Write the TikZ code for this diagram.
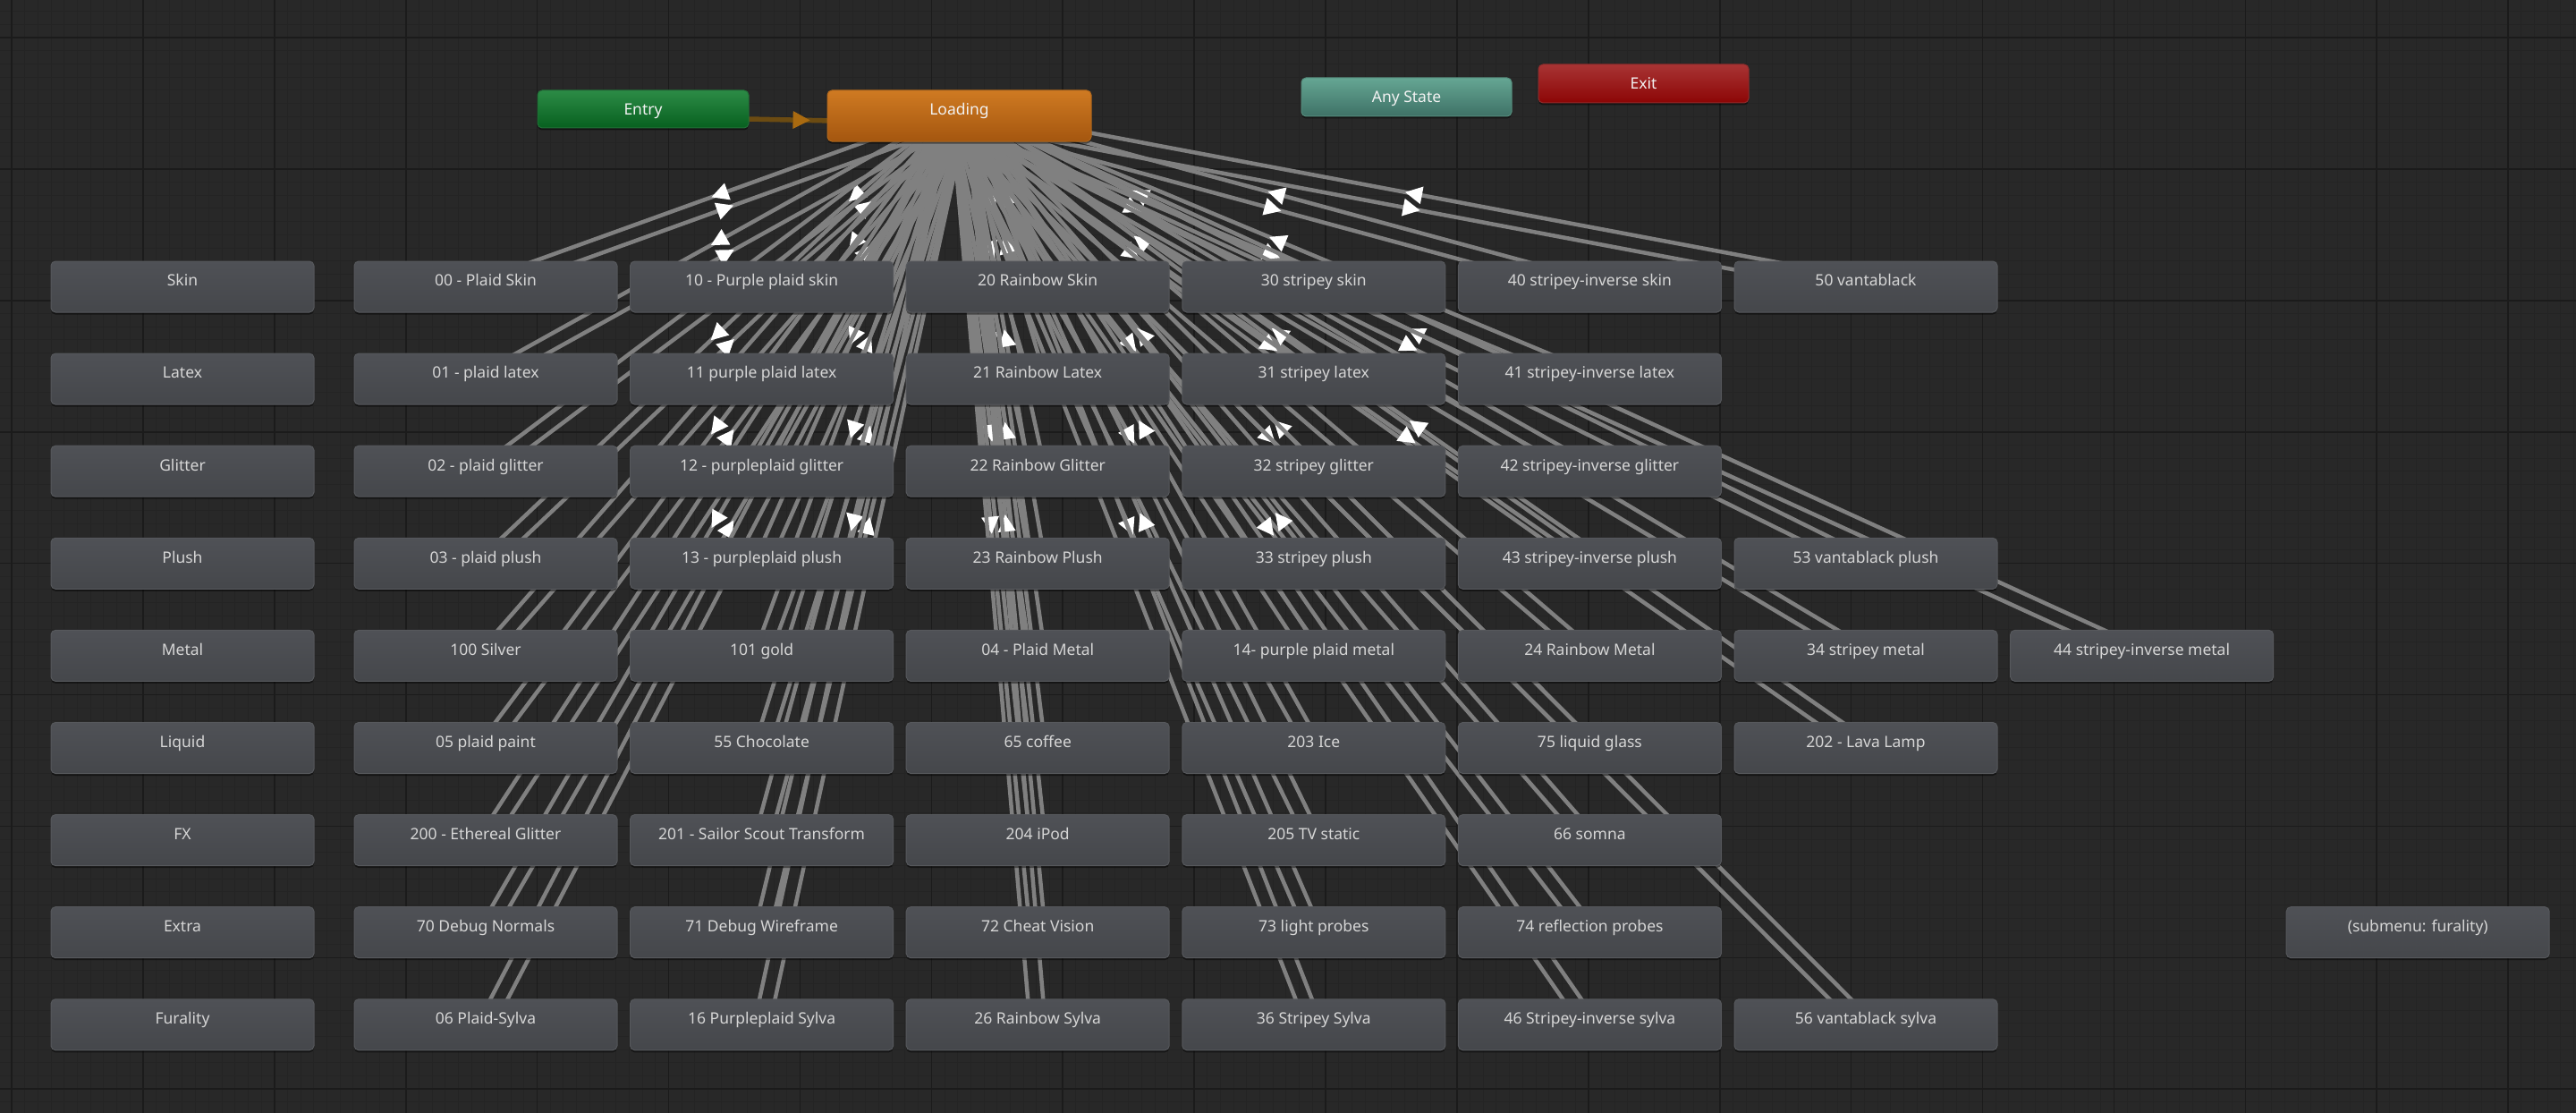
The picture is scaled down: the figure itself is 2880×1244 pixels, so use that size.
\documentclass[tikz,border=0pt]{standalone}
\usepackage{fontspec}
\setmainfont{Noto Sans}
\usetikzlibrary{calc,decorations.markings,shadows}
\definecolor{bgc}{HTML}{282828}
\definecolor{minorc}{HTML}{242424}
\definecolor{majorc}{HTML}{1B1B1B}
\definecolor{nodetop}{HTML}{4F5156}
\definecolor{nodebot}{HTML}{45474B}
\definecolor{nodeedge}{HTML}{56585C}
\definecolor{nodetext}{HTML}{D6D6D6}
\definecolor{linegray}{HTML}{808080}
\definecolor{entrytop}{HTML}{2C8B46}
\definecolor{entrybot}{HTML}{07601F}
\definecolor{loadtop}{HTML}{CF7A22}
\definecolor{loadbot}{HTML}{A4560F}
\definecolor{anytop}{HTML}{65A693}
\definecolor{anybot}{HTML}{3E7166}
\definecolor{exittop}{HTML}{A83434}
\definecolor{exitbot}{HTML}{8C0505}
\definecolor{entryline}{HTML}{6B4B12}
\definecolor{entryarrow}{HTML}{A96A10}
\pgfdeclarelayer{gridlayer}
\pgfdeclarelayer{edgelayer}
\pgfsetlayers{gridlayer,edgelayer,main}
\tikzset{
  basebox/.style={rounded corners=5pt, inner sep=0pt, line width=1pt,
    font=\fontsize{17.5}{20}\selectfont, text height=13pt,
    drop shadow={shadow xshift=0pt, shadow yshift=-2.5pt, opacity=0.45, fill=black}},
  st/.style={basebox, minimum width=294pt, minimum height=57pt, text depth=14.4pt,
    top color=nodetop, bottom color=nodebot, draw=nodeedge, text=nodetext},
  special/.style={basebox, minimum width=236pt, minimum height=43pt, text depth=0pt, text=white!90!gray},
  trans/.style={draw=linegray, line width=4.5pt, postaction={decorate},
    decoration={markings, mark=at position 0.5 with {\fill[white] (10pt,0pt) -- (-9pt,10pt) -- (-9pt,-10pt) -- cycle;}}},
  entrytrans/.style={draw=entryline, line width=5.5pt, postaction={decorate},
    decoration={markings, mark=at position 0.5 with {\fill[entryarrow] (10pt,0pt) -- (-9pt,10pt) -- (-9pt,-10pt) -- cycle;}}},
  minorline/.style={draw=minorc, line width=1pt},
  majorline/.style={draw=majorc, line width=1.6pt}
}
\begin{document}
\begin{tikzpicture}[x=1pt,y=-1pt]
\useasboundingbox (0,0) rectangle (2880,1244);
\begin{pgfonlayer}{gridlayer}
\fill[bgc] (0,0) rectangle (2880,1244);
\foreach \i in {0,...,196} {\draw[minorline] ({13+(\i-1)*14.69},0) -- ({13+(\i-1)*14.69},1244);}
\foreach \i in {0,...,86} {\draw[minorline] (0,{12.6+(\i-1)*14.69}) -- (2880,{12.6+(\i-1)*14.69});}
\foreach \i in {0,...,19} {\draw[majorline] ({13+\i*146.9},0) -- ({13+\i*146.9},1244);}
\foreach \i in {0,...,8} {\draw[majorline] (0,{42+\i*146.9}) -- (2880,{42+\i*146.9});}
\end{pgfonlayer}

% special states
\node[special, minimum height=42pt, top color=entrytop, bottom color=entrybot, draw=entrytop!80!black] (entry) at (719,122) {Entry};
\node[special, minimum width=295pt, minimum height=57pt, text depth=14.4pt, top color=loadtop, bottom color=loadbot, draw=loadtop!85!black] (load) at (1072.5,129.5) {Loading};
\node[special, minimum width=235pt, top color=anytop, bottom color=anybot, draw=anytop!85!black] (any) at (1572.5,108.5) {Any State};
\node[special, minimum width=235pt, top color=exittop, bottom color=exitbot, draw=exittop!85!black] (exit) at (1837.5,93.5) {Exit};

% category labels (column 0)
\node[st] (lab0) at (204,320.5) {Skin};
\node[st] (lab1) at (204,423.6) {Latex};
\node[st] (lab2) at (204,526.7) {Glitter};
\node[st] (lab3) at (204,629.8) {Plush};
\node[st] (lab4) at (204,732.9) {Metal};
\node[st] (lab5) at (204,836) {Liquid};
\node[st] (lab6) at (204,939.1) {FX};
\node[st] (lab7) at (204,1042.2) {Extra};
\node[st] (lab8) at (204,1145.3) {Furality};

% row 0
\node[st] (s00) at (543,320.5) {00 - Plaid Skin};
\node[st] (s10) at (851.6,320.5) {10 - Purple plaid skin};
\node[st] (s20) at (1160.2,320.5) {20 Rainbow Skin};
\node[st] (s30) at (1468.8,320.5) {30 stripey skin};
\node[st] (s40) at (1777.4,320.5) {40 stripey-inverse skin};
\node[st] (s50) at (2086,320.5) {50 vantablack};
% row 1
\node[st] (s01) at (543,423.6) {01 - plaid latex};
\node[st] (s11) at (851.6,423.6) {11 purple plaid latex};
\node[st] (s21) at (1160.2,423.6) {21 Rainbow Latex};
\node[st] (s31) at (1468.8,423.6) {31 stripey latex};
\node[st] (s41) at (1777.4,423.6) {41 stripey-inverse latex};
% row 2
\node[st] (s02) at (543,526.7) {02 - plaid glitter};
\node[st] (s12) at (851.6,526.7) {12 - purpleplaid glitter};
\node[st] (s22) at (1160.2,526.7) {22 Rainbow Glitter};
\node[st] (s32) at (1468.8,526.7) {32 stripey glitter};
\node[st] (s42) at (1777.4,526.7) {42 stripey-inverse glitter};
% row 3
\node[st] (s03) at (543,629.8) {03 - plaid plush};
\node[st] (s13) at (851.6,629.8) {13 - purpleplaid plush};
\node[st] (s23) at (1160.2,629.8) {23 Rainbow Plush};
\node[st] (s33) at (1468.8,629.8) {33 stripey plush};
\node[st] (s43) at (1777.4,629.8) {43 stripey-inverse plush};
\node[st] (s53) at (2086,629.8) {53 vantablack plush};
% row 4
\node[st] (s100) at (543,732.9) {100 Silver};
\node[st] (s101) at (851.6,732.9) {101 gold};
\node[st] (s04) at (1160.2,732.9) {04 - Plaid Metal};
\node[st] (s14) at (1468.8,732.9) {14- purple plaid metal};
\node[st] (s24) at (1777.4,732.9) {24 Rainbow Metal};
\node[st] (s34) at (2086,732.9) {34 stripey metal};
\node[st] (s44) at (2394.6,732.9) {44 stripey-inverse metal};
% row 5
\node[st] (s05) at (543,836) {05 plaid paint};
\node[st] (s55) at (851.6,836) {55 Chocolate};
\node[st] (s65) at (1160.2,836) {65 coffee};
\node[st] (s203) at (1468.8,836) {203 Ice};
\node[st] (s75) at (1777.4,836) {75 liquid glass};
\node[st] (s202) at (2086,836) {202 - Lava Lamp};
% row 6
\node[st] (s200) at (543,939.1) {200 - Ethereal Glitter};
\node[st] (s201) at (851.6,939.1) {201 - Sailor Scout Transform};
\node[st] (s204) at (1160.2,939.1) {204 iPod};
\node[st] (s205) at (1468.8,939.1) {205 TV static};
\node[st] (s66) at (1777.4,939.1) {66 somna};
% row 7
\node[st] (s70) at (543,1042.2) {70 Debug Normals};
\node[st] (s71) at (851.6,1042.2) {71 Debug Wireframe};
\node[st] (s72) at (1160.2,1042.2) {72 Cheat Vision};
\node[st] (s73) at (1468.8,1042.2) {73 light probes};
\node[st] (s74) at (1777.4,1042.2) {74 reflection probes};
\node[st] (sub) at (2703.2,1042.2) {(submenu: furality)};
% row 8
\node[st] (s06) at (543,1145.3) {06 Plaid-Sylva};
\node[st] (s16) at (851.6,1145.3) {16 Purpleplaid Sylva};
\node[st] (s26) at (1160.2,1145.3) {26 Rainbow Sylva};
\node[st] (s36) at (1468.8,1145.3) {36 Stripey Sylva};
\node[st] (s46) at (1777.4,1145.3) {46 Stripey-inverse sylva};
\node[st] (s56) at (2086,1145.3) {56 vantablack sylva};

\begin{pgfonlayer}{edgelayer}
\draw[entrytrans] ($(entry.center)!8.5pt!-90:(load.center)$) -- ($(load.center)!8.5pt!90:(entry.center)$);
\foreach \s in {s00,s10,s20,s30,s40,s50,s01,s11,s21,s31,s41,s02,s12,s22,s32,s42,s03,s13,s23,s33,s43,s53,s100,s101,s04,s14,s24,s34,s44,s05,s55,s65,s203,s75,s202,s200,s201,s204,s205,s66,s70,s71,s72,s73,s74,s06,s16,s26,s36,s46,s56} {
  \draw[trans] ($(load.center)!8.5pt!-90:(\s.center)$) -- ($(\s.center)!8.5pt!90:(load.center)$);
  \draw[trans] ($(\s.center)!8.5pt!-90:(load.center)$) -- ($(load.center)!8.5pt!90:(\s.center)$);
}
\end{pgfonlayer}
\end{tikzpicture}
\end{document}
